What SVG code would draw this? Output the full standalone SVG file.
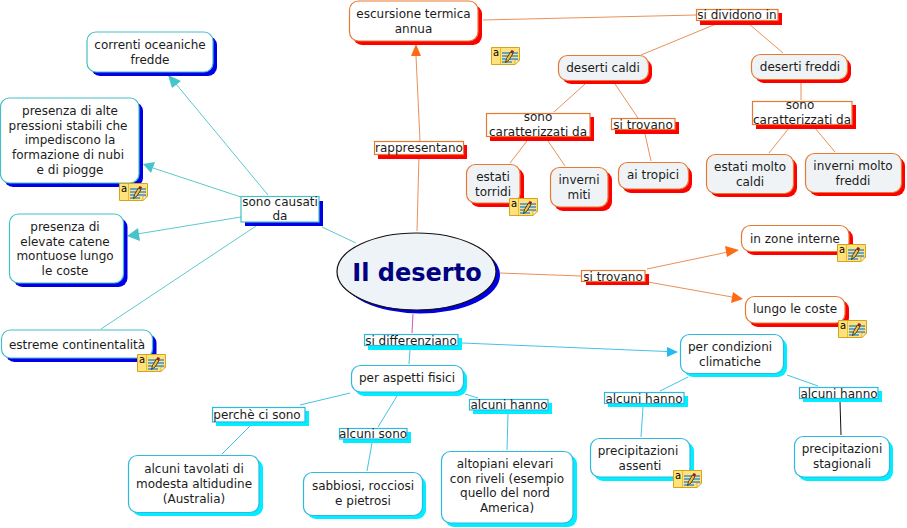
<svg xmlns="http://www.w3.org/2000/svg" width="907" height="528" viewBox="0 0 907 528">
<style>
text{font-family:"DejaVu Sans","Verdana",sans-serif;font-size:12px;fill:#1c1c1c;text-anchor:middle}
.c line{fill:none;stroke-width:1}
.t line,line.t{stroke:#5cc8cd}.o line,line.o{stroke:#ea9058}.b line,line.b{stroke:#42c3e8}
rect{stroke-width:1.2}
.st{fill:#fff;stroke:#45bfc6}.so{fill:#fff;stroke:#e57a35}.sg{fill:#eff3f6;stroke:#e57a35}.sb{fill:#fff;stroke:#2cb9e2}
.bl{fill:#0000e8;stroke:none}.rd{fill:#ff0000;stroke:none}.cy{fill:#00eeff;stroke:none}
.ht{fill:#45c4c9}.ho{fill:#ff6a13}.hb{fill:#22bdf0}
</style>
<defs>
<g id="note">
<path d="M0.500 0.500H28.500V13L24 17.500H0.500Z" fill="#ffe27a" stroke="#d6a41c"/>
<path d="M24 17.500V13H28.500Z" fill="#fff6cf" stroke="#d6a41c" stroke-width=".8"/>
<path d="M9.500 1V17" stroke="#e8b93a"/>
<text x="5" y="9" style="font-size:10px;fill:#000">a</text>
<path d="M11 6H27M11 9H27M11 12H27M11 15H21" stroke="#3f8fd8" stroke-width="1.300"/>
<path d="M14.500 15.500L15.500 11.500L19.500 5L22 6.500L18 13Z" fill="#f3c23a" stroke="#222" stroke-width=".8"/>
<path d="M19.500 5L20.500 3L23 4L22 6.500Z" fill="#a01818"/>
</g>
</defs>
<g id="connectors" class="c">
<g class="t">
<line x1="356" y1="243" x2="322" y2="227"/>
<line x1="268" y1="195" x2="176" y2="84"/>
<line x1="241" y1="197" x2="153" y2="168"/>
<line x1="241" y1="217" x2="137" y2="234"/>
<line x1="256" y1="226" x2="101" y2="329"/>
</g>
<g class="o">
<line x1="417" y1="231" x2="419" y2="155"/>
<line x1="420" y1="141" x2="416" y2="56"/>
<line x1="483" y1="20" x2="696" y2="15"/>
<line x1="716" y1="24" x2="641" y2="55"/>
<line x1="749" y1="24" x2="783" y2="53"/>
<line x1="585" y1="84" x2="554" y2="112"/>
<line x1="615" y1="84" x2="638" y2="118"/>
<line x1="645" y1="134" x2="651" y2="161"/>
<line x1="527" y1="141" x2="510" y2="163"/>
<line x1="548" y1="141" x2="565" y2="166"/>
<line x1="801" y1="83" x2="801" y2="100"/>
<line x1="789" y1="128" x2="769" y2="153"/>
<line x1="815" y1="128" x2="835" y2="152"/>
<line x1="500" y1="273" x2="581" y2="276"/>
<line x1="647" y1="269" x2="728" y2="252"/>
<line x1="648" y1="282" x2="732" y2="297"/>
</g>
<line x1="413" y1="314" x2="412" y2="333" stroke="#d44fd0"/>
<g class="b">
<line x1="462" y1="343" x2="667" y2="351.500"/>
<line x1="410" y1="350" x2="409" y2="364"/>
<line x1="350" y1="393" x2="300" y2="405"/>
<line x1="250" y1="426" x2="222" y2="454"/>
<line x1="397" y1="396" x2="378" y2="427"/>
<line x1="372" y1="443" x2="367" y2="471"/>
<line x1="465" y1="394" x2="478" y2="398"/>
<line x1="508" y1="414" x2="507" y2="450"/>
<line x1="688" y1="377" x2="660" y2="391"/>
<line x1="643" y1="407" x2="641" y2="437"/>
<line x1="787" y1="375" x2="818" y2="386"/>
</g>
<line x1="840" y1="402" x2="841" y2="435" stroke="#111"/>
<polygon class="ht" points="168,75 181,81 172,88"/>
<polygon class="ht" points="143,164 155,162 151,173"/>
<polygon class="ht" points="127,236 138,228 140,241"/>
<polygon class="ho" points="416,44 421,56 411,56"/>
<polygon class="ho" points="739,250 727,257 725,246"/>
<polygon class="ho" points="743,299 731,303 733,292"/>
<polygon class="hb" points="678,352 667,347 667,357"/>
</g>
<g id="n-correnti"><rect class="bl" x="91" y="36" width="126" height="40" rx="9"/><rect class="st" x="87" y="32" width="126" height="40" rx="9"/><text x="150" y="49">correnti oceaniche</text><text x="150" y="64">fredde</text></g>
<g id="n-alte"><rect class="bl" x="4" y="102" width="139" height="85" rx="9"/><rect class="st" x="0.500" y="98" width="138.500" height="85" rx="9"/><text x="70" y="115">presenza di alte</text><text x="68" y="130">pressioni stabili che</text><text x="70" y="144">impediscono la</text><text x="68" y="159">formazione di nubi</text><text x="70" y="174">e di piogge</text><use href="#note" x="119" y="183"/></g>
<g id="n-catene"><rect class="bl" x="13.500" y="218" width="114" height="69" rx="9"/><rect class="st" x="9.500" y="214" width="114" height="69" rx="9"/><text x="65" y="231">presenza di</text><text x="65" y="246">elevate catene</text><text x="65" y="260">montuose lungo</text><text x="65" y="275">le coste</text></g>
<g id="n-estreme"><rect class="bl" x="5.500" y="334" width="151" height="28" rx="9"/><rect class="st" x="1.500" y="330" width="151" height="28" rx="9"/><text x="77" y="349">estreme continentalità</text><use href="#note" x="137" y="354"/></g>
<g id="n-causati"><rect class="bl" x="245" y="201" width="78" height="25"/><rect class="st" x="241" y="196.500" width="78" height="25.500"/><text x="280" y="206">sono causati</text><text x="280" y="220">da</text></g>
<g id="n-escursione"><rect class="rd" x="353" y="5" width="129" height="40" rx="9"/><rect class="so" x="349.500" y="1" width="128.500" height="40" rx="9"/><text x="413.500" y="18">escursione termica</text><text x="413.500" y="33">annua</text></g>
<use href="#note" x="491" y="47"/>
<g id="n-rapp"><rect class="rd" x="378" y="145" width="89" height="14"/><rect class="so" x="374.500" y="141.500" width="89" height="13"/><text x="419" y="152">rappresentano</text></g>
<g id="n-dcaldi"><rect class="rd" x="562" y="59" width="90" height="25" rx="9"/><rect class="sg" x="558.500" y="55.500" width="90" height="25" rx="9"/><text x="603" y="72">deserti caldi</text></g>
<g id="n-car1"><rect class="rd" x="490" y="117" width="104" height="24"/><rect class="so" x="486.500" y="113.500" width="103.500" height="23"/><text x="538" y="121">sono</text><text x="538" y="136">caratterizzati da</text></g>
<g id="n-trov1"><rect class="rd" x="615" y="122" width="64" height="12"/><rect class="so" x="611.500" y="118.500" width="63.500" height="11"/><text x="643" y="129">si trovano</text></g>
<g id="n-estati"><rect class="rd" x="470" y="168" width="54" height="39" rx="9"/><rect class="sg" x="466.500" y="164.500" width="53.500" height="38.500" rx="9"/><text x="493" y="181">estati</text><text x="493" y="196">torridi</text><use href="#note" x="509" y="198"/></g>
<g id="n-inverni"><rect class="rd" x="554" y="171" width="58" height="40" rx="9"/><rect class="sg" x="550.500" y="167.500" width="57.500" height="39.500" rx="9"/><text x="579" y="184">inverni</text><text x="579" y="199">miti</text></g>
<g id="n-tropici"><rect class="rd" x="622" y="166" width="70" height="27" rx="9"/><rect class="sg" x="618.500" y="162.500" width="70" height="26.500" rx="9"/><text x="653" y="179">ai tropici</text></g>
<g id="n-dividono"><rect class="rd" x="700" y="13" width="82" height="12"/><rect class="so" x="696.500" y="9.500" width="81.500" height="11"/><text x="737" y="19">si dividono in</text></g>
<g id="n-dfreddi"><rect class="rd" x="755" y="58" width="96" height="25" rx="9"/><rect class="sg" x="751.500" y="54.500" width="96" height="25" rx="9"/><text x="800" y="71">deserti freddi</text></g>
<g id="n-car2"><rect class="rd" x="756" y="105" width="100" height="24"/><rect class="so" x="752.500" y="101.500" width="99.500" height="23"/><text x="800" y="109">sono</text><text x="802" y="124">caratterizzati da</text></g>
<g id="n-emolto"><rect class="rd" x="710" y="158" width="87" height="39" rx="9"/><rect class="sg" x="706.500" y="154.500" width="87" height="39" rx="9"/><text x="750" y="171">estati molto</text><text x="750" y="186">caldi</text></g>
<g id="n-imolto"><rect class="rd" x="809" y="157" width="96" height="39" rx="9"/><rect class="sg" x="805.500" y="153.500" width="96" height="39" rx="9"/><text x="853" y="170">inverni molto</text><text x="853" y="185">freddi</text></g>
<g id="n-trov2"><rect class="rd" x="586" y="274" width="63" height="11"/><rect class="so" x="581.500" y="270.500" width="63.500" height="11"/><text x="613" y="281">si trovano</text></g>
<g id="n-interne"><rect class="rd" x="745" y="229" width="108" height="26" rx="9"/><rect class="so" x="741.500" y="225.500" width="107.500" height="26" rx="9"/><text x="795" y="243">in zone interne</text><use href="#note" x="837" y="244"/></g>
<g id="n-lungo"><rect class="rd" x="749" y="300" width="100" height="27" rx="9"/><rect class="so" x="745.500" y="296.500" width="99.500" height="26.500" rx="9"/><text x="795" y="313">lungo le coste</text><use href="#note" x="838" y="320"/></g>
<g id="n-root"><ellipse cx="420.500" cy="275" rx="79.500" ry="38.500" fill="#0000e0"/><ellipse cx="416.500" cy="271.500" rx="79.500" ry="38.500" fill="#eef3f7" stroke="#111" stroke-width="1.200"/><text x="417" y="281" style="font-size:24px;font-weight:bold;fill:#000080;font-family:'DejaVu Sans',sans-serif">Il deserto</text></g>
<g id="n-diff"><rect class="cy" x="368" y="338" width="94" height="12"/><rect class="sb" x="364.500" y="334.500" width="93.500" height="11"/><text x="411" y="345">si differenziano</text></g>
<g id="n-cond"><rect class="cy" x="684" y="338" width="103" height="39" rx="9"/><rect class="sb" x="680.500" y="334.500" width="103" height="39" rx="9"/><text x="730" y="351">per condizioni</text><text x="730" y="366">climatiche</text></g>
<g id="n-ah1"><rect class="cy" x="608" y="396" width="80" height="11"/><rect class="sb" x="604.500" y="392.500" width="79.500" height="11"/><text x="644" y="403">alcuni hanno</text></g>
<g id="n-ah2"><rect class="cy" x="803" y="391" width="79" height="11"/><rect class="sb" x="799.500" y="387.500" width="78.500" height="11"/><text x="839" y="398">alcuni hanno</text></g>
<g id="n-assenti"><rect class="cy" x="594" y="442" width="100" height="39" rx="9"/><rect class="sb" x="590.500" y="438.500" width="99.500" height="38.500" rx="9"/><text x="638" y="455">precipitazioni</text><text x="640" y="470">assenti</text><use href="#note" x="673" y="470"/></g>
<g id="n-stag"><rect class="cy" x="798" y="440" width="95" height="41" rx="9"/><rect class="sb" x="794.500" y="436.500" width="95" height="40.500" rx="9"/><text x="842" y="453">precipitazioni</text><text x="842" y="468">stagionali</text></g>
<g id="n-fisici"><rect class="cy" x="355" y="369" width="112" height="27" rx="9"/><rect class="sb" x="351.500" y="365.500" width="112" height="26.500" rx="9"/><text x="407" y="382">per aspetti fisici</text></g>
<g id="n-perche"><rect class="cy" x="216" y="411" width="93" height="15"/><rect class="sb" x="212.500" y="407.500" width="92.500" height="14.500"/><text x="257" y="419">perchè ci sono</text></g>
<g id="n-as"><rect class="cy" x="343" y="432" width="68" height="11"/><rect class="sb" x="339.500" y="428.500" width="67.500" height="10.500"/><text x="373" y="438">alcuni sono</text></g>
<g id="n-ah3"><rect class="cy" x="473" y="403" width="79" height="11"/><rect class="sb" x="469.500" y="399.500" width="78.500" height="10.500"/><text x="509" y="409">alcuni hanno</text></g>
<g id="n-tavolati"><rect class="cy" x="132" y="459" width="131" height="57" rx="9"/><rect class="sb" x="128.500" y="455.500" width="130.500" height="57" rx="9"/><text x="194" y="473">alcuni tavolati di</text><text x="194" y="488">modesta altidudine</text><text x="194" y="503">(Australia)</text></g>
<g id="n-sabbiosi"><rect class="cy" x="307" y="476" width="119" height="43" rx="9"/><rect class="sb" x="303.500" y="472.500" width="119" height="43" rx="9"/><text x="363" y="490">sabbiosi, rocciosi</text><text x="363" y="505">e pietrosi</text></g>
<g id="n-altopiani"><rect class="cy" x="445" y="455" width="132" height="72" rx="9"/><rect class="sb" x="441.500" y="451.500" width="131.500" height="71.500" rx="9"/><text x="505" y="468">altopiani elevari</text><text x="507" y="483">con riveli (esempio</text><text x="505" y="497">quello del nord</text><text x="507" y="512">America)</text></g>
</svg>
